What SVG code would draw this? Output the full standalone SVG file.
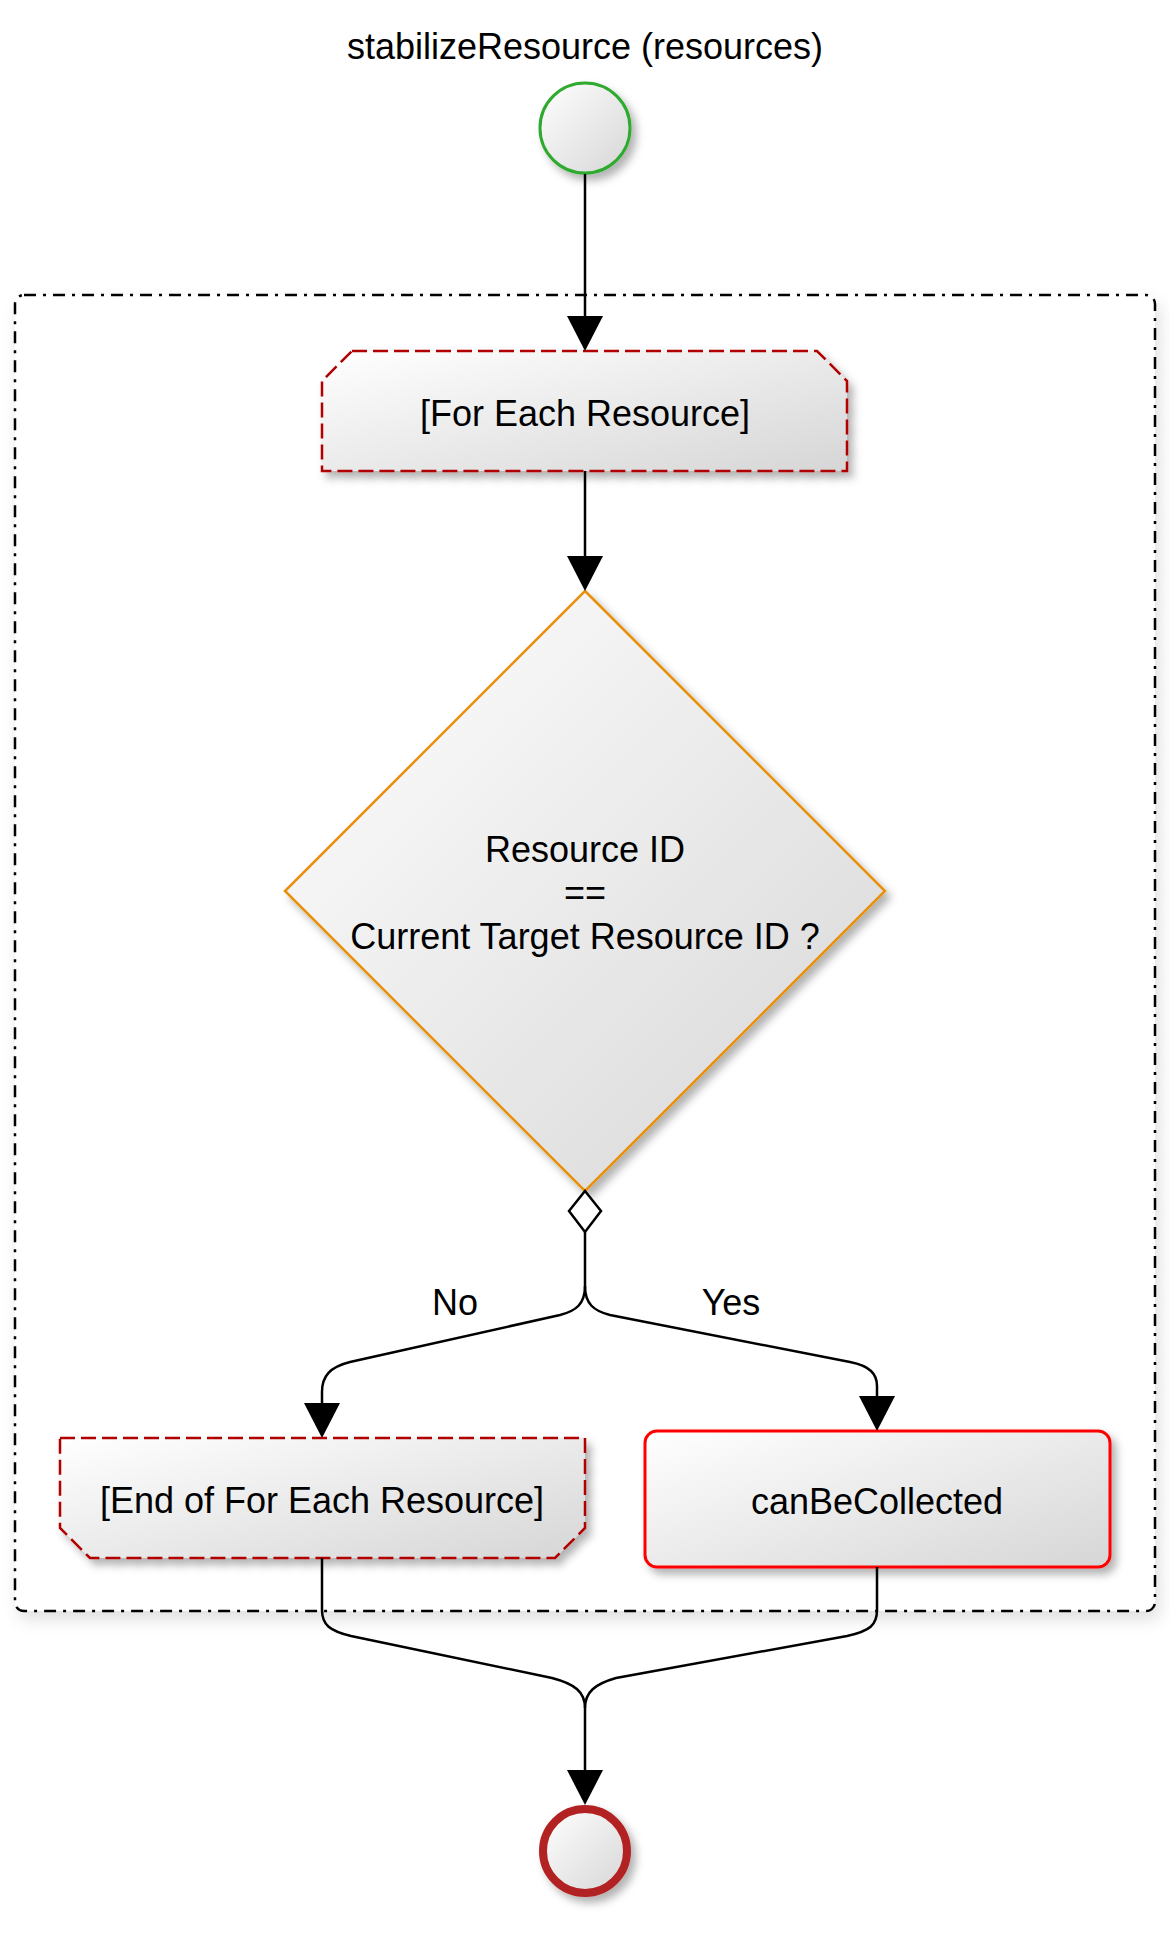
<svg xmlns="http://www.w3.org/2000/svg" width="1170" height="1935" viewBox="0 0 1170 1935">
<style>
text{font-family:"Liberation Sans",Arial,sans-serif;font-size:36px;fill:#000;text-anchor:middle}
.conn{fill:none;stroke:#000;stroke-width:2.5}
.loop{stroke:#B00000;stroke-width:2.5;stroke-dasharray:15 6;fill:url(#g)}
</style>
<defs>
<linearGradient id="g" x1="0" y1="0" x2="1" y2="1">
<stop offset="0" stop-color="#ffffff"/>
<stop offset="1" stop-color="#d6d6d6"/>
</linearGradient>
<filter id="sh" x="-20%" y="-20%" width="150%" height="150%">
<feDropShadow dx="5" dy="6" stdDeviation="4" flood-color="#000" flood-opacity="0.3"/>
</filter>
<filter id="shc" x="-5%" y="-5%" width="110%" height="110%">
<feDropShadow dx="4" dy="8" stdDeviation="8" flood-color="#000" flood-opacity="0.12"/>
</filter>
<marker id="arr" viewBox="0 0 35 36" refX="0" refY="18" markerWidth="35" markerHeight="36" markerUnits="userSpaceOnUse" orient="auto">
<path d="M0,0 L35,18 L0,36 z" fill="#000"/>
</marker>
</defs>
<rect width="1170" height="1935" fill="#fff"/>
<text x="585" y="59">stabilizeResource (resources)</text>
<g id="container">
<rect x="15" y="295" width="1140" height="1316" rx="9" fill="#fff" stroke="#000" stroke-width="2.5" stroke-dasharray="12 7 3 7" filter="url(#shc)"/>
</g>
<g id="start">
<circle cx="585" cy="128" r="45" fill="url(#g)" stroke="#2EAA2E" stroke-width="3" filter="url(#sh)"/>
</g>
<g id="forEach">
<path class="loop" d="M352,351 L817,351 L847,381 L847,471 L322,471 L322,381 Z" filter="url(#sh)"/>
<text x="585" y="426">[For Each Resource]</text>
</g>
<g id="decision">
<path d="M585,591 L885,891 L585,1191 L285,891 Z" fill="url(#g)" stroke="#E8900A" stroke-width="2.5" filter="url(#sh)"/>
<text x="585" y="862">Resource ID</text>
<text x="585" y="905">==</text>
<text x="585" y="949">Current Target Resource ID ?</text>
</g>
<g id="endLoop">
<path class="loop" d="M60,1438 L585,1438 L585,1528 L555,1558 L90,1558 L60,1528 Z" filter="url(#sh)"/>
<text x="322" y="1513">[End of For Each Resource]</text>
</g>
<g id="canBeCollected">
<rect x="645" y="1431" width="465" height="136" rx="12" fill="url(#g)" stroke="#FF0000" stroke-width="3" filter="url(#sh)"/>
<text x="877" y="1514">canBeCollected</text>
</g>
<g id="end">
<circle cx="585" cy="1851" r="42" fill="url(#g)" stroke="#B22222" stroke-width="8" filter="url(#sh)"/>
</g>
<g id="connectors">
<path class="conn" d="M585,174 L585,316" stroke-width="3" marker-end="url(#arr)"/>
<path class="conn" d="M585,471 L585,556" stroke-width="3" marker-end="url(#arr)"/>
<path d="M585,1191 L601,1211 L585,1232 L569,1211 Z" fill="#fff" stroke="#000" stroke-width="2.5"/>
<path class="conn" d="M585,1232 L585,1286 C585,1304 576,1311 560,1315 L350,1362 C330,1367 322,1376 322,1392 L322,1403" marker-end="url(#arr)"/>
<path class="conn" d="M585,1286 C585,1304 594,1311 610,1315 L850,1362 C870,1366 877,1374 877,1386 L877,1396" marker-end="url(#arr)"/>
<text x="455" y="1315">No</text>
<text x="731" y="1315">Yes</text>
<path class="conn" d="M322,1558 L322,1610 C322,1625 330,1631 351,1636 L552,1678 C575,1684 585,1692 585,1708 L585,1770" marker-end="url(#arr)"/>
<path class="conn" d="M877,1567 L877,1610 C877,1625 870,1631 847,1636 L616,1678 C595,1684 585,1692 585,1708"/>
</g>
</svg>
